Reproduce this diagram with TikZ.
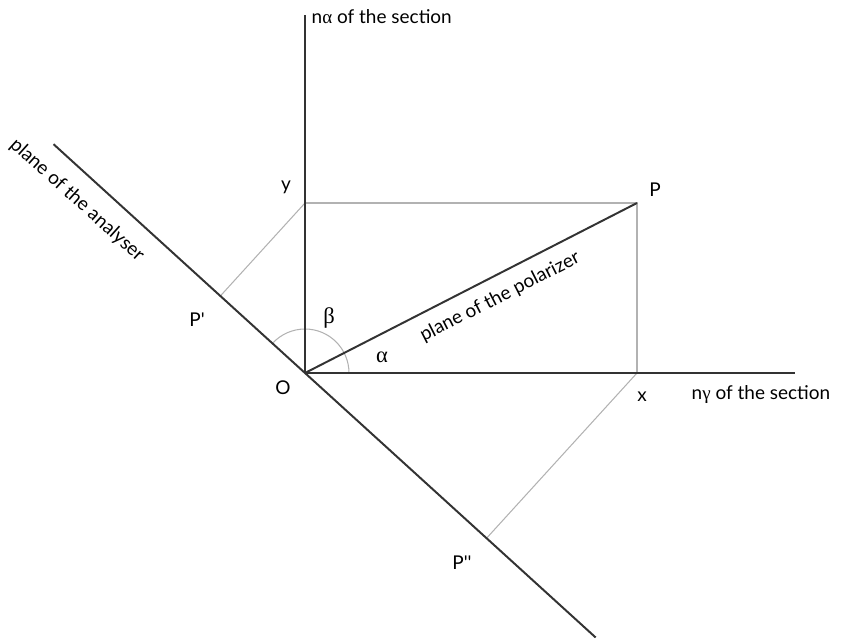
\documentclass[tikz,border=0pt]{standalone}
\usepackage{fontspec}
\setmainfont{Lato}
\newfontfamily\grk{Liberation Serif}
\usetikzlibrary{calc}

\begin{document}
\begin{tikzpicture}[x=0.025cm,y=0.025cm,font=\fontsize{13.5}{16}\selectfont,
  axis/.style={line width=1.4pt,black!80},
  proj/.style={line width=0.75pt,gray!60},
  lbl/.style={inner sep=1pt}]
\useasboundingbox (-305,-268) rectangle (538,373);
% Points of the construction
\coordinate (O) at (0,0);
\coordinate (Ntop) at (0,358);
\coordinate (Nend) at (490,0);
\coordinate (Y) at (0,170);
\coordinate (X) at (332,0);
\coordinate (P) at (332,170);
\coordinate (A1) at (137.7:340);
\coordinate (A2) at (-42.3:393);
\coordinate (P1) at ($(A1)!(Y)!(A2)$);
\coordinate (P2) at ($(A1)!(X)!(A2)$);
% Projections
\draw[proj] (Y) -- (P) -- (X);
\draw[proj] (Y) -- (P1);
\draw[proj] (X) -- (P2);
\draw[proj] ($(O)+(44,0)$) arc[start angle=0,end angle=137.7,radius=44];
% Axes and planes
\draw[axis] (O) -- (Ntop);
\draw[axis] (O) -- (Nend);
\draw[axis] (A1) -- (A2);
\draw[axis] (O) -- (P);
% Labels
\node[lbl,anchor=west] (na) at (5,356) {n{\grk α} of the section};
\node[lbl,anchor=west] (ng) at (385,-22) {n{\grk γ} of the section};
\node[lbl] (ly) at (-19,186) {y};
\node[lbl] (lP) at (350,183) {P};
\node[lbl] (lx) at (337,-24) {x};
\node[lbl] (lO) at (-22,-15) {O};
\node[lbl] (lP1) at (-108,53) {P\textquotesingle};
\node[lbl] (lP2) at (157,-190) {P\textquotesingle\textquotesingle};
\node[lbl,font=\grk\fontsize{16}{18}\selectfont] (lb) at (24,55) {β};
\node[lbl,font=\grk\fontsize{16}{18}\selectfont] (la) at (77,16) {α};
\node[lbl,rotate=-42] (lan) at (-228,173) {plane of the analyser};
\node[lbl,rotate=27] (lpo) at (195,76) {plane of the polarizer};
\end{tikzpicture}
\end{document}
